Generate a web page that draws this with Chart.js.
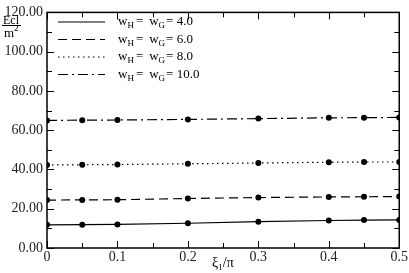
<!DOCTYPE html>
<html>
<head>
<meta charset="utf-8">
<script src="https://cdn.jsdelivr.net/npm/chart.js@4"></script>
<style>
  html, body { margin: 0; padding: 0; background: #fff; }
  #wrap { width: 409px; height: 273px; position: relative; }
</style>
</head>
<body>
<div id="wrap"><canvas id="chart"></canvas></div>
<script>
// giá trị
const xi = [0, 0.05, 0.1, 0.2, 0.3, 0.4, 0.45, 0.5];
const w4 = [11.8, 11.9, 12.0, 12.6, 13.4, 14.0, 14.2, 14.3];
const w6 = [24.4, 24.5, 24.6, 25.2, 25.7, 26.0, 26.1, 26.2];
const w8 = [42.3, 42.4, 42.5, 42.9, 43.3, 43.7, 43.8, 43.8];
const w10 = [65.0, 65.1, 65.2, 65.5, 65.9, 66.3, 66.4, 66.5];
const legendVals = ['4.0', '6.0', '8.0', '10.0'];
const dashes = [[], [9, 5], [1.5, 3.5], [10, 4, 2, 4]];

const serif = '"Liberation Serif", "DejaVu Serif", serif';

function series(ys, i) {
    return {
        label: 'w = ' + legendVals[i],
        data: xi.map((x, k) => ({ x: x, y: ys[k] })),
        borderColor: '#000',
        backgroundColor: '#000',
        borderWidth: 1.2,
        borderDash: dashes[i],
        pointRadius: 3,
        pointBorderWidth: 0,
        tension: 0
    };
}

// khung, vạch chia hướng vào trong, chú giải và nhãn trục
const decor = {
    id: 'decor',
    afterDraw(chart) {
        const c = chart.ctx, a = chart.chartArea;
        const sx = chart.scales.x, sy = chart.scales.y;
        c.save();
        c.strokeStyle = '#000';
        c.lineWidth = 1.5;
        c.setLineDash([]);
        c.strokeRect(a.left, a.top, a.right - a.left, a.bottom - a.top);
        c.lineWidth = 1;
        for (let v = 0; v <= 120.001; v += 10) {
            const y = Math.round(sy.getPixelForValue(v)) + 0.5;
            const len = (Math.round(v) % 20 === 0) ? 7 : 5;
            c.beginPath();
            c.moveTo(a.left, y); c.lineTo(a.left + len, y);
            c.moveTo(a.right, y); c.lineTo(a.right - len, y);
            c.stroke();
        }
        for (let v = 0; v <= 0.5001; v += 0.05) {
            const x = Math.round(sx.getPixelForValue(v)) + 0.5;
            const len = (Math.round(v * 100) % 10 === 0) ? 7 : 5;
            c.beginPath();
            c.moveTo(x, a.bottom); c.lineTo(x, a.bottom - len);
            c.moveTo(x, a.top); c.lineTo(x, a.top + len);
            c.stroke();
        }
        // chú giải
        chart.data.datasets.forEach((ds, i) => {
            const y = 22 + i * 17.5;
            c.lineWidth = 1.2;
            c.setLineDash(dashes[i]);
            c.beginPath();
            c.moveTo(58, y); c.lineTo(105, y);
            c.stroke();
            c.setLineDash([]);
            c.fillStyle = '#000';
            c.textBaseline = 'alphabetic';
            let x = 118;
            const base = y + 3;
            c.font = '13px ' + serif;
            c.fillText('w', x, base); x += c.measureText('w').width;
            c.font = '9px ' + serif;
            c.fillText('H', x, base + 3); x += c.measureText('H').width + 2;
            c.font = '13px ' + serif;
            c.fillText('=', x, base); x += c.measureText('=').width + 6;
            c.fillText('w', x, base); x += c.measureText('w').width;
            c.font = '9px ' + serif;
            c.fillText('G', x, base + 3); x += c.measureText('G').width + 1;
            c.font = '13px ' + serif;
            c.fillText('= ' + legendVals[i], x, base);
        });
        // nhãn trục y: Ecl / m²
        c.font = '12px ' + serif;
        c.fillText('Ecl', 3, 24);
        c.lineWidth = 1;
        c.beginPath(); c.moveTo(2, 25.5); c.lineTo(21, 25.5); c.stroke();
        c.font = '13px ' + serif;
        c.fillText('m', 4, 37);
        c.font = '9px ' + serif;
        c.fillText('2', 14, 31);
        // nhãn trục x: ξ1/π
        c.font = '14px ' + serif;
        let x = 212;
        c.fillText('\u03BE', x, 267); x += c.measureText('\u03BE').width;
        c.font = '9px ' + serif;
        c.fillText('1', x, 270); x += c.measureText('1').width;
        c.font = '14px ' + serif;
        c.fillText('/\u03C0', x, 267);
        c.restore();
    }
};

const ctx = document.getElementById('chart').getContext('2d');
new Chart(ctx, {
    type: 'line',
    data: { datasets: [series(w4, 0), series(w6, 1), series(w8, 2), series(w10, 3)] },
    options: {
        responsive: true,
        maintainAspectRatio: false,
        animation: false,
        layout: { padding: { top: 4, right: 7, left: 0, bottom: 0 } },
        plugins: { legend: { display: false }, tooltip: { enabled: false } },
        scales: {
            x: {
                type: 'linear', min: 0, max: 0.5,
                grid: { display: false, drawTicks: false },
                border: { display: false },
                afterFit: s => { s.height = 25; },
                ticks: {
                    stepSize: 0.1, maxRotation: 0, padding: 1,
                    color: '#222', font: { family: serif, size: 14 },
                    callback: v => v === 0 ? '0' : String(Math.round(v * 10) / 10)
                }
            },
            y: {
                min: 0, max: 120,
                grid: { display: false, drawTicks: false },
                border: { display: false },
                afterFit: s => { s.width = 47; },
                ticks: {
                    stepSize: 20, padding: 4,
                    color: '#222', font: { family: serif, size: 14 },
                    callback: v => v.toFixed(2)
                }
            }
        }
    },
    plugins: [decor]
});
</script>
</body>
</html>
